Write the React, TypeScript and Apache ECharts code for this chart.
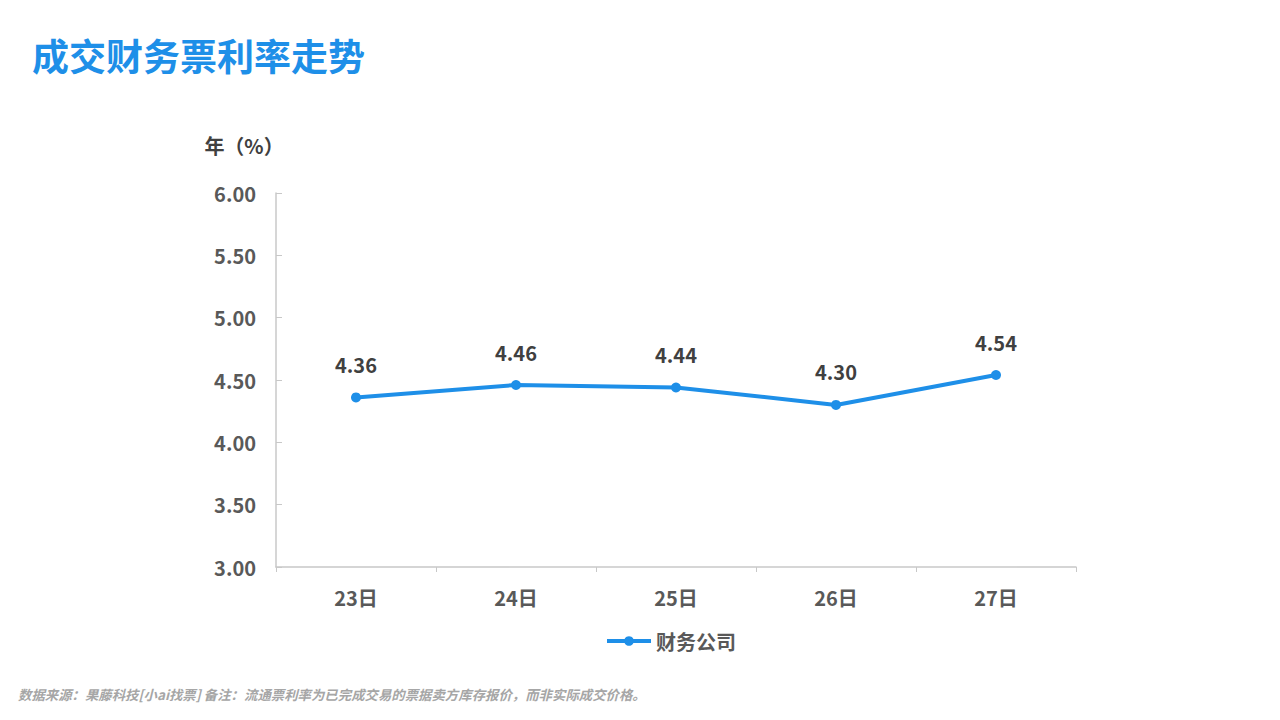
import React, { useEffect, useRef } from "react";
import * as echarts from "echarts";

const title = "成交财务票利率走势";
const footnote = "数据来源：果藤科技[小ai找票] 备注：流通票利率为已完成交易的票据卖方库存报价，而非实际成交价格。";
const yAxisName = "年（%）";
const categories = ["23日", "24日", "25日", "26日", "27日"];
const seriesName = "财务公司";
const values = [4.36, 4.46, 4.44, 4.3, 4.54];
const yMin = 3;
const yMax = 6;
const yInterval = 0.5;

const FONT = "'Noto Sans CJK SC', 'Open Sans', sans-serif";
const BLUE = "#1e8fe8";
const GRAY = "#595959";
const AXIS = "#c8c8c8";

export default function App() {
  const ref = useRef<HTMLDivElement>(null);
  useEffect(() => {
    const chart = echarts.init(ref.current!, null, { renderer: "svg" });
    chart.setOption({
      animation: false,
      backgroundColor: "#ffffff",
      textStyle: { fontFamily: FONT },
      title: {
        text: title,
        left: 27,
        top: 31,
        textStyle: { color: BLUE, fontSize: 37, fontWeight: "bold", fontFamily: FONT },
      },
      graphic: [
        {
          type: "text",
          left: 18,
          top: 687,
          style: {
            text: footnote,
            fill: "#a6a6a6",
            font: `italic bold 13.4px ${FONT}`,
          },
        },
      ],
      legend: {
        data: [seriesName],
        bottom: 64,
        left: 600,
        itemWidth: 44,
        itemHeight: 12,
        lineStyle: { width: 4 },
        textStyle: { color: GRAY, fontSize: 20, fontWeight: "bold", fontFamily: FONT },
        itemGap: 0,
      },
      grid: { left: 276, top: 193, right: 204, bottom: 153 },
      xAxis: {
        type: "category",
        data: categories,
        boundaryGap: true,
        axisLine: { lineStyle: { color: AXIS, width: 1.5 } },
        axisTick: { show: true, length: 5, lineStyle: { color: AXIS }, alignWithLabel: false },
        axisLabel: { color: GRAY, fontSize: 20, fontWeight: "bold", margin: 20, fontFamily: FONT },
      },
      yAxis: {
        type: "value",
        min: yMin,
        max: yMax,
        interval: yInterval,
        name: yAxisName,
        nameLocation: "end",
        nameGap: 38,
        nameTextStyle: { color: "#404040", fontSize: 20, fontWeight: "bold", align: "center", padding: [0, 0, 0, -64], fontFamily: FONT },
        axisLine: { show: true, lineStyle: { color: AXIS, width: 1.5 } },
        axisTick: { show: true, inside: true, length: 6, lineStyle: { color: AXIS } },
        splitLine: { show: false },
        axisLabel: {
          color: GRAY,
          fontSize: 20,
          fontWeight: "bold",
          margin: 20,
          fontFamily: FONT,
          formatter: (v: number) => v.toFixed(2),
        },
      },
      series: [
        {
          name: seriesName,
          type: "line",
          data: values,
          symbol: "circle",
          symbolSize: 10,
          lineStyle: { color: BLUE, width: 4 },
          itemStyle: { color: BLUE },
          label: {
            show: true,
            position: "top",
            distance: 18,
            color: "#404040",
            fontSize: 20,
            fontWeight: "bold",
            fontFamily: FONT,
            formatter: (p: any) => Number(p.value).toFixed(2),
          },
        },
      ],
    });
    return () => chart.dispose();
  }, []);
  return <div ref={ref} style={{ width: 1280, height: 720, position: "fixed", left: 0, top: 0 }} />;
}
